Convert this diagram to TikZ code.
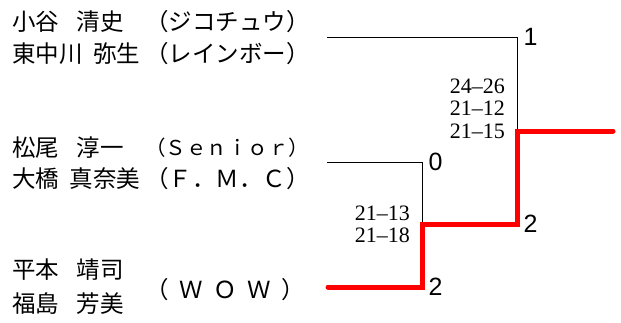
\documentclass[tikz,border=0pt]{standalone}
\usepackage{fontspec}
\setmainfont{Liberation Serif}
\newfontfamily\jpfont[WordSpace=2]{Noto Sans CJK JP}
\newfontfamily\numfont{Liberation Sans}
\usetikzlibrary{positioning}

\begin{document}
\begin{tikzpicture}[x=1pt, y=-1pt,
  player/.style={anchor=west, inner sep=0pt, font=\jpfont\fontsize{23.5}{23.5}\selectfont},
  club/.style={player},
  score/.style={anchor=east, inner sep=0pt, align=right, font=\fontsize{22}{22.5}\selectfont},
  tally/.style={anchor=west, inner sep=0pt, font=\numfont\fontsize{25}{25}\selectfont},
  bline/.style={line width=0.9pt},
  winline/.style={red, line width=5pt, line cap=round}]
\useasboundingbox (0,0) rectangle (621,322);

% Paare
\node[player] (p1a) at (12,22) {小谷\hspace{0.75em}清史};
\node[player] (p1b) at (12,54) {東中川 弥生};
\node[club] (t1a) at (145,22) {（ジコチュウ）};
\node[club] (t1b) at (145,54) {（レインボー）};

\node[player] (p2a) at (12,147.5) {松尾\hspace{0.75em}淳一};
\node[player] (p2b) at (12,179) {大橋 真奈美};
\node[club, font=\jpfont\fontsize{20.5}{20.5}\selectfont] (t2a) at (145,147.5) {（Ｓｅｎｉｏｒ）};
\node[club] (t2b) at (145,179) {（Ｆ．Ｍ．Ｃ）};

\node[player] (p3a) at (12,270) {平本\hspace{0.75em}靖司};
\node[player] (p3b) at (12,304) {福島\hspace{0.75em}芳美};
\node[club] (t3) at (145,290) {（ Ｗ Ｏ Ｗ ）};

% Linien
\coordinate (e1) at (327,37);
\coordinate (e2) at (327,162);
\coordinate (e3) at (328,287);
\coordinate (m2) at (422.5,224);
\coordinate (m1) at (517.5,131);
\coordinate (win) at (613,131);
\coordinate (c1) at (517.5,37);
\coordinate (c2) at (422.5,162);
\coordinate (c3) at (422.5,287);
\coordinate (c4) at (517.5,224);

\draw[bline] (e1) -| (m1);
\draw[bline] (e2) -| (m2);
\draw[winline] (e3) -| (m2) -| (m1) -- (win);

% Ergebnisse
\node[score] (s1) at (505,108.5) {24--26\\21--12\\21--15};
\node[score] (s2) at (410,224.5) {21--13\\21--18};

\node[tally, right=6pt of c1] (n1) {1};
\node[tally, right=6pt of c4] (n2) {2};
\node[tally, right=6pt of c2] (n3) {0};
\node[tally, right=6pt of c3] (n4) {2};
\end{tikzpicture}
\end{document}
